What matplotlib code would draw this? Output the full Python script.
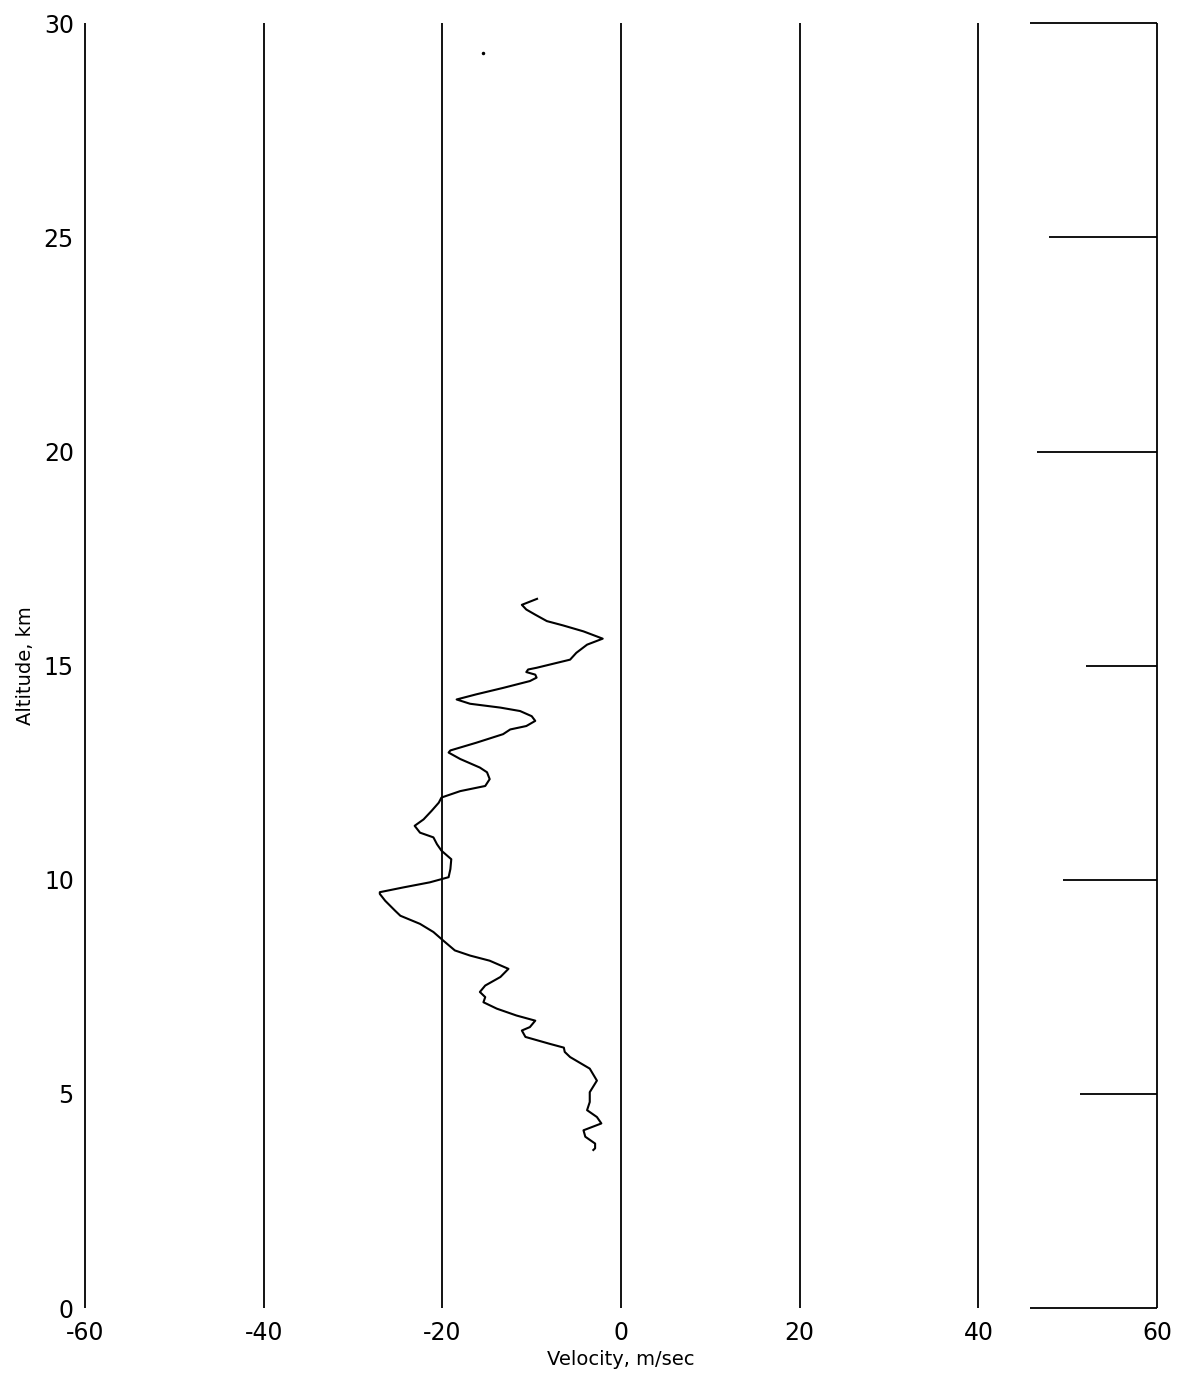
import numpy as np
import matplotlib
matplotlib.use("Agg")
import matplotlib.pyplot as plt

# velocity profile (m/sec) vs altitude (km), top to bottom
velocity = [-9.4, -11.1, -10.6, -9.6, -8.3, -6.5, -4.2, -2.05, -3.8, -5.0,
            -5.7, -9.45, -10.4, -10.6, -9.6, -9.45, -10.2, -13.2, -16.2, -18.4,
            -16.9, -13.5, -11.3, -10.0, -9.6, -10.6, -12.4, -13.2, -16.2, -19.1,
            -19.3, -18.0, -15.8, -15.0, -14.7, -15.2, -18.0, -20.1, -20.4, -21.2,
            -22.1, -23.1, -22.5, -21.0, -20.6, -20.1, -19.0, -19.1, -19.3, -21.4,
            -24.4, -27.0, -27.0, -26.4, -25.3, -24.7, -22.5, -21.0, -19.9, -18.6,
            -16.9, -14.7, -12.6, -13.5, -15.2, -15.8, -15.2, -15.4, -13.9, -11.7,
            -9.6, -10.2, -11.1, -10.7, -8.0, -6.4, -6.3, -5.7, -3.5, -2.7,
            -3.5, -3.5, -3.8, -2.7, -2.2, -4.2, -4.0, -2.9, -2.9, -3.1]
altitude = [16.56, 16.42, 16.31, 16.19, 16.04, 15.94, 15.8, 15.63, 15.49, 15.3,
            15.14, 14.95, 14.91, 14.85, 14.79, 14.72, 14.64, 14.48, 14.33, 14.21,
            14.11, 14.02, 13.94, 13.82, 13.71, 13.59, 13.51, 13.4, 13.2, 13.02,
            12.97, 12.82, 12.62, 12.51, 12.35, 12.19, 12.07, 11.92, 11.8, 11.61,
            11.41, 11.26, 11.1, 10.99, 10.83, 10.68, 10.48, 10.25, 10.06, 9.94,
            9.82, 9.71, 9.67, 9.51, 9.28, 9.16, 8.97, 8.78, 8.58, 8.35,
            8.23, 8.11, 7.92, 7.73, 7.53, 7.38, 7.26, 7.14, 6.99, 6.83,
            6.71, 6.56, 6.48, 6.33, 6.17, 6.08, 5.98, 5.86, 5.59, 5.31,
            5.04, 4.81, 4.62, 4.46, 4.31, 4.15, 4.0, 3.84, 3.73, 3.69]

# vertical reference lines
grid_x = [-60, -40, -20, 0, 20, 40, 60]
x_ticks = [-60, -40, -20, 0, 20, 40, 60]
y_ticks = [0, 5, 10, 15, 20, 25, 30]

# horizontal marks on the right-hand scale: altitude and where each mark starts
mark_alt = [0, 5, 10, 15, 20, 25, 30]
mark_start = [45.8, 51.4, 49.5, 52.0, 46.6, 47.9, 45.8]

# stray dot near the top
dot_v = [-15.5]
dot_alt = [29.3]

fig = plt.figure(figsize=(11.82, 13.77), dpi=100)
ax = fig.add_axes([0.0719, 0.0501, 0.907, 0.933])

ax.vlines(grid_x, 0, 30, color="black", linewidth=1.3, clip_on=False)
ax.hlines(mark_alt, mark_start, 60, color="black", linewidth=1.3, clip_on=False)
ax.plot(velocity, altitude, color="black", linewidth=1.5, solid_joinstyle="round")
ax.plot(dot_v, dot_alt, "o", color="black", markersize=1.5)

ax.set_xlim(-60, 60)
ax.set_ylim(0, 30)
for s in ax.spines.values():
    s.set_visible(False)

ax.set_xticks(x_ticks)
ax.set_xticklabels([str(t) for t in x_ticks])
ax.set_yticks(y_ticks)
ax.set_yticklabels([str(t) for t in y_ticks])
ax.tick_params(axis="both", length=0, labelsize=17)
ax.tick_params(axis="x", pad=9)
ax.tick_params(axis="y", pad=8)

ax.set_xlabel("Velocity, m/sec", fontsize=14, labelpad=4)
ax.set_ylabel("Altitude, km", fontsize=14, labelpad=6)

fig.savefig("out.png", dpi=100, facecolor="white")
